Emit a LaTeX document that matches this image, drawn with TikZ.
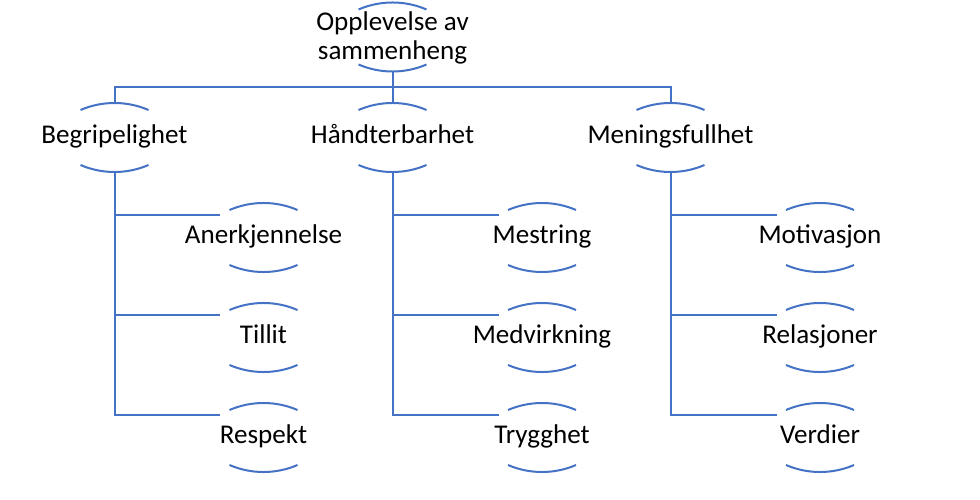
\documentclass[tikz,border=0pt]{standalone}
\usepackage{fontspec}
\setmainfont{Carlito}
\usetikzlibrary{calc}
\definecolor{lineblue}{HTML}{4472C4}
\tikzset{
  arcnode/.style={rectangle, draw=none, minimum width=64.5pt, minimum height=51.75pt,
    inner sep=0pt, font=\fontsize{20.3}{21.75}\selectfont, text=black},
  conn/.style={draw=lineblue, line width=1.5pt},
  arcline/.style={draw=lineblue, line width=1.5pt},
}
\newcommand{\arcs}[1]{%
  \draw[arcline] ($(#1.center)+(-34,-27.5)$) arc[start angle=246.7, end angle=293.3, radius=86];
  \draw[arcline] ($(#1.center)+(-34,27.5)$) arc[start angle=113.3, end angle=66.7, radius=86];
}
\newcommand{\lbl}[1]{\makebox[0pt]{\rule{0pt}{15pt}#1\rule[-6.75pt]{0pt}{6.75pt}}}
\begin{document}
\begin{tikzpicture}[x=0.75pt, y=-0.75pt]
\useasboundingbox (0,0) rectangle (980,499);
% root
\node[arcnode] (root) at (392.5,37) {\makebox[0pt]{\raisebox{4.7pt}[0pt][0pt]{\begin{tabular}[t]{@{}c@{}}Opplevelse av\\sammenheng\end{tabular}}}};
% level 1
\node[arcnode] (p1) at (114.5,137.5) {\lbl{Begripelighet}};
\node[arcnode] (p2) at (392.5,137.5) {\lbl{Håndterbarhet}};
\node[arcnode] (p3) at (670.5,137.5) {\lbl{Meningsfullhet}};
% children
\node[arcnode] (c11) at (263.5,237.5) {\lbl{Anerkjennelse}};
\node[arcnode] (c12) at (263.5,337.5) {\lbl{Tillit}};
\node[arcnode] (c13) at (263.5,437.5) {\lbl{Respekt}};
\node[arcnode] (c21) at (542,237.5) {\lbl{Mestring}};
\node[arcnode] (c22) at (542,337.5) {\lbl{Medvirkning}};
\node[arcnode] (c23) at (542,437.5) {\lbl{Trygghet}};
\node[arcnode] (c31) at (820,237.5) {\lbl{Motivasjon}};
\node[arcnode] (c32) at (820,337.5) {\lbl{Relasjoner}};
\node[arcnode] (c33) at (820,437.5) {\lbl{Verdier}};
\foreach \n in {root,p1,p2,p3,c11,c12,c13,c21,c22,c23,c31,c32,c33} {\arcs{\n}}
% connectors
\coordinate (bar) at ($(root.south)!0.5!(p2.north)$);
\draw[conn] (root.south) -- (p2.north);
\draw[conn] (p1.north) |- (bar) -| (p3.north);
\foreach \p in {1,2,3} {
  \coordinate (e\p1) at ($(c\p1.west)+(0,-22.5)$);
  \coordinate (e\p2) at ($(c\p2.west)+(0,-22.5)$);
  \coordinate (e\p3) at ($(c\p3.west)+(0,-22.5)$);
  \draw[conn] (p\p.south) |- (e\p3);
  \draw[conn] (p\p.south |- e\p1) -- (e\p1);
  \draw[conn] (p\p.south |- e\p2) -- (e\p2);
}
\end{tikzpicture}
\end{document}
